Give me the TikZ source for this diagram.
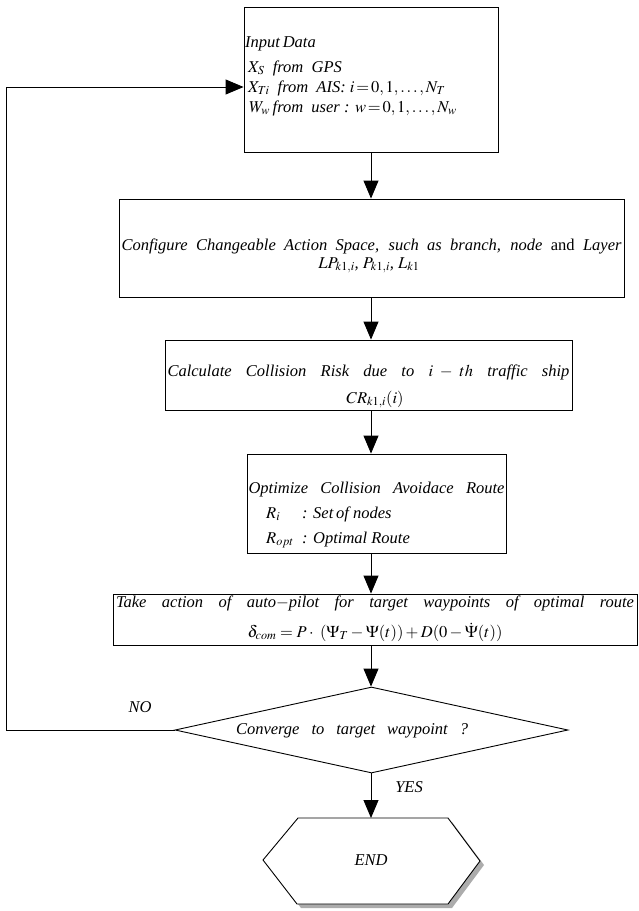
\documentclass[tikz,border=0pt]{standalone}
\usepackage{mathptmx}
\usepackage{fontspec}
\setmainfont{Liberation Serif}
\usetikzlibrary{shapes.geometric,arrows.meta}
\newcommand{\spreadline}[2]{\makebox[#1][s]{#2}}
\begin{document}
\begin{tikzpicture}[x=1pt,y=-1pt,
  every node/.style={font=\fontsize{16.5}{19}\selectfont\itshape},
  box/.style={draw,line width=0.9pt,inner sep=0pt},
  txt/.style={inner sep=0pt,anchor=base},
  txtl/.style={inner sep=0pt,anchor=base west},
  arr/.style={line width=0.9pt,-{Triangle[width=15pt,length=18pt]}},
  ln/.style={line width=0.9pt}]
\useasboundingbox (0,0) rectangle (638,911);
\fill[white] (0,0) rectangle (638,911);
\coordinate (ax) at (371,0);
% boxes
\node[box,minimum width=254pt,minimum height=145pt] (b1) at (371,79.5) {};
\node[box,minimum width=505pt,minimum height=98pt] (b2) at (371.5,248) {};
\node[box,minimum width=407pt,minimum height=70pt] (b3) at (368.5,375) {};
\node[box,minimum width=259pt,minimum height=99pt] (b4) at (376.5,503.5) {};
\node[box,minimum width=524pt,minimum height=51pt] (b5) at (375,619.5) {};
\node[draw,diamond,line width=0.9pt,inner sep=0pt,minimum width=393pt,minimum height=86pt] (dia) at (371.5,730) {};
% texts box 1
\node[txtl] (t11) at (245,47) {Input\,Data};
\node[txtl] (t12) at (248,72) {$X_S$\ \ from\ \ GPS};
\node[txtl] (t13) at (248,92) {$X_{Ti}$\ \ from\ \ AIS: $i\!=\!0,1,\ldots,N_T$};
\node[txtl] (t14) at (249,112) {$W_w$\,from\ \ user : $w\!=\!0,1,\ldots,N_w$};
% box 2
\node[txt] (t21) at (371.5,250) {\spreadline{500pt}{Configure Changeable Action Space, such as branch, node {\upshape and} Layer}};
\node[txt] (t22) at (369,268) {$LP_{k1,i}$, $P_{k1,i}$, $L_{k1}$};
% box 3
\node[txt] (t31) at (368.5,376) {\spreadline{402pt}{Calculate Collision Risk due to $i-th$ traffic ship}};
\node[txt] (t32) at (375,403) {$CR_{k1,i}(i)$};
% box 4
\node[txt] (t41) at (376.5,493) {\spreadline{256pt}{Optimize Collision Avoidace Route}};
\node[txtl] (t42) at (266,518) {\makebox[36pt][l]{$R_i$}: Set\,of nodes};
\node[txtl] (t43) at (266,543) {\makebox[36pt][l]{$R_{opt}$}: Optimal Route};
% box 5
\node[txt] (t51) at (375,607) {\spreadline{518pt}{Take action of auto$-$pilot for target waypoints of optimal route}};
\node[txt] (t52) at (375,637.5) {$\delta_{com}=P\cdot\ (\Psi_T-\Psi(t))+D(0-\dot{\Psi}(t))$};
% diamond text
\node[txt] (td) at (352,734) {\spreadline{232pt}{Converge to target waypoint ?}};
% labels
\node[inner sep=0pt] (no) at (140,707) {NO};
\node[inner sep=0pt] (yes) at (409,787) {YES};
% END hexagon
\coordinate (endtop) at (371,818);
\fill[gray!65] (302,822) -- (452,822) -- (484,865) -- (452,908) -- (301,908) -- (267,864) -- cycle;
\filldraw[fill=white,line width=0.9pt] (298,818) -- (448,818) -- (480,861) -- (448,904) -- (297,904) -- (263,860) -- cycle;
\node[inner sep=0pt] (endn) at (371,860) {END};
% connectors
\draw[arr] (ax |- b1.south) -- (ax |- b2.north);
\draw[arr] (ax |- b2.south) -- (ax |- b3.north);
\draw[arr] (ax |- b3.south) -- (ax |- b4.north);
\draw[arr] (ax |- b4.south) -- (ax |- b5.north);
\draw[arr] (ax |- b5.south) -- (ax |- dia.north);
\draw[arr] (ax |- dia.south) -- (endtop);
\coordinate (fbtop) at (6,87);
\draw[arr] (dia.west) -| (fbtop) -- (fbtop -| b1.west);
\end{tikzpicture}
\end{document}
